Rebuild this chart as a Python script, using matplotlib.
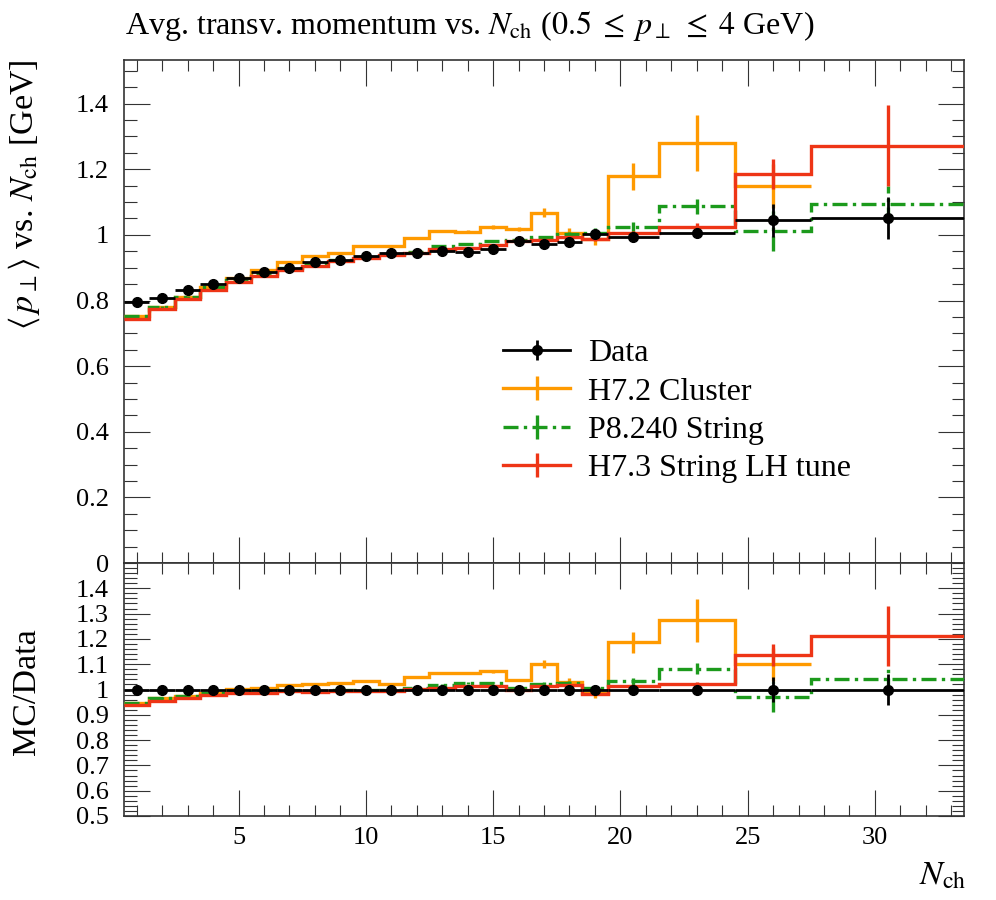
import numpy as np
import matplotlib
matplotlib.use("Agg")
import matplotlib.pyplot as plt
from matplotlib.lines import Line2D
from matplotlib.ticker import MultipleLocator, FixedLocator, FuncFormatter

# ---------------- data ----------------
edges = [0.5, 1.5, 2.5, 3.5, 4.5, 5.5, 6.5, 7.5, 8.5, 9.5, 10.5, 11.5, 12.5,
         13.5, 14.5, 15.5, 16.5, 17.5, 18.5, 19.5, 21.5, 24.5, 27.5, 33.5]

data_vals = [0.795, 0.809, 0.832, 0.851, 0.868, 0.886, 0.900, 0.916, 0.924, 0.936,
             0.944, 0.944, 0.951, 0.949, 0.956, 0.981, 0.971, 0.977, 1.003, 0.993,
             1.005, 1.044, 1.051]
data_err = [0.003, 0.003, 0.003, 0.003, 0.003, 0.003, 0.003, 0.003, 0.003, 0.003,
            0.004, 0.004, 0.004, 0.004, 0.005, 0.005, 0.005, 0.006, 0.006, 0.008,
            0.010, 0.050, 0.065]

h72_vals = [0.753, 0.781, 0.812, 0.840, 0.870, 0.893, 0.917, 0.936, 0.946, 0.966,
            0.966, 0.990, 1.012, 1.010, 1.025, 1.018, 1.068, 1.007, 0.988, 1.178,
            1.280, 1.149]
h72_err = [0.003, 0.003, 0.003, 0.003, 0.003, 0.003, 0.003, 0.003, 0.003, 0.003,
           0.003, 0.003, 0.004, 0.004, 0.006, 0.005, 0.015, 0.015, 0.020, 0.040,
           0.086, 0.068]

p8_vals = [0.753, 0.781, 0.812, 0.840, 0.863, 0.880, 0.898, 0.912, 0.924, 0.934,
           0.941, 0.949, 0.967, 0.973, 0.982, 0.985, 0.993, 1.003, 1.007, 1.025,
           1.088, 1.013, 1.093]
p8_err = [0.003, 0.003, 0.003, 0.003, 0.003, 0.003, 0.003, 0.003, 0.003, 0.003,
          0.003, 0.003, 0.003, 0.003, 0.003, 0.003, 0.005, 0.007, 0.013, 0.015,
          0.023, 0.061, 0.055]

h73_vals = [0.745, 0.773, 0.804, 0.832, 0.855, 0.875, 0.893, 0.906, 0.919, 0.931,
            0.939, 0.946, 0.956, 0.961, 0.970, 0.981, 0.985, 0.995, 0.987, 1.005,
            1.025, 1.185, 1.272]
h73_err = [0.003, 0.003, 0.003, 0.003, 0.003, 0.003, 0.003, 0.003, 0.003, 0.003,
           0.003, 0.003, 0.003, 0.003, 0.003, 0.003, 0.003, 0.003, 0.005, 0.006,
           0.010, 0.045, 0.124]

labels = ["Data", "H7.2 Cluster", "P8.240 String", "H7.3 String LH tune"]
title = r"Avg. transv. momentum vs. $N_{\mathrm{ch}}$ ($0.5\;\leq\;p_\perp\;\leq\;4$ GeV)"
ylabel_main = r"$\langle\, p_\perp \rangle$ vs. $N_{\mathrm{ch}}$ [GeV]"
ylabel_ratio = "MC/Data"
xlabel = r"$N_{\mathrm{ch}}$"

# ---------------- style ----------------
plt.rcParams['font.family'] = ['Liberation Serif', 'DejaVu Serif']
plt.rcParams['mathtext.fontset'] = 'stix'
FS_TICK = 19
FS_TEXT = 23
FS_LAB = 24.5

C_ORANGE = "#ff9a00"
C_GREEN = "#1c9a1c"
C_RED = "#ee3516"
LW = 2.4
GREEN_LS = (0, (4.5, 1.6, 1.0, 1.6))

edges_a = np.array(edges)
centers = 0.5 * (edges_a[:-1] + edges_a[1:])
halfw = 0.5 * (edges_a[1:] - edges_a[:-1])
d = np.array(data_vals)
de = np.array(data_err)

fig = plt.figure(figsize=(9.96, 9.0), dpi=100)
L, R = 124 / 996, 964 / 996
ax = fig.add_axes([L, 1 - 563 / 900, R - L, (563 - 60) / 900])
axr = fig.add_axes([L, 1 - 816 / 900, R - L, (816 - 563) / 900], sharex=ax)

series = [
    (h72_vals, h72_err, C_ORANGE, '-'),
    (p8_vals, p8_err, C_GREEN, GREEN_LS),
    (h73_vals, h73_err, C_RED, '-'),
]

for a, ratio in ((ax, False), (axr, True)):
    for vals, errs, col, ls in series:
        v = np.array(vals)
        e = np.array(errs)
        n = len(v)
        if ratio:
            v = v / d[:n]
            e = e / d[:n]
        a.stairs(v, edges_a[:n + 1], baseline=None, color=col, lw=LW,
                 linestyle=ls, zorder=3)
        eb = a.errorbar(centers[:n], v, yerr=e, fmt='none', ecolor=col,
                        elinewidth=LW, capsize=0, zorder=3)
        if ls != '-':
            for lc in eb.lines[2]:
                lc.set_linestyle(ls)
    if ratio:
        dv = np.ones_like(d)
        dee = de / d
    else:
        dv = d
        dee = de
    a.errorbar(centers, dv, xerr=halfw, yerr=dee, fmt='o', color='black',
               ms=7, elinewidth=2.0, capsize=0, zorder=5)

# ---------------- axes ----------------
for a in (ax, axr):
    a.set_xlim(0.5, 33.5)
    a.xaxis.set_major_locator(MultipleLocator(5))
    a.xaxis.set_minor_locator(MultipleLocator(1))
    a.tick_params(which='both', direction='in', top=True, right=True,
                  width=0.8, color='#333333', labelsize=FS_TICK)
    a.tick_params(which='major', length=19)
    a.tick_params(axis='x', which='minor', length=8)
    a.tick_params(axis='y', which='minor', length=9)
    a.tick_params(axis='y', pad=11)
    a.tick_params(axis='x', pad=8)
    for s in a.spines.values():
        s.set_linewidth(1.2)
        s.set_color('#333333')

fmt = FuncFormatter(lambda v, p: ("%.2f" % v).rstrip('0').rstrip('.'))
ax.set_ylim(0, 1.533)
ax.yaxis.set_major_locator(MultipleLocator(0.2))
ax.yaxis.set_minor_locator(MultipleLocator(0.05))
ax.yaxis.set_major_formatter(fmt)
ax.tick_params(labelbottom=False)

axr.set_ylim(0.5, 1.5)
axr.yaxis.set_major_locator(FixedLocator(np.round(np.arange(0.5, 1.45, 0.1), 2)))
axr.yaxis.set_minor_locator(MultipleLocator(0.02))
axr.yaxis.set_major_formatter(fmt)
axr.xaxis.set_major_formatter(FuncFormatter(lambda v, p: "%d" % v))

# ---------------- texts ----------------
fig.text(125 / 996, 1 - 26 / 900, title, fontsize=FS_TEXT, ha='left', va='center')
fig.text(24 / 996, 1 - 60 / 900, ylabel_main, fontsize=FS_LAB, rotation=90,
         ha='center', va='top')
fig.text(27 / 996, 1 - 692 / 900, ylabel_ratio, fontsize=FS_LAB, rotation=90,
         ha='center', va='center')
fig.text(966 / 996, 1 - 876 / 900, xlabel, fontsize=FS_LAB, ha='right', va='center')

# ---------------- legend ----------------
def bar(col):
    return Line2D([], [], color=col, marker='|', ms=17, mew=LW, ls='none')

handles = [
    (Line2D([], [], color='black', lw=2.0), Line2D([], [], color='black', marker='o', ms=7, ls='none'),
     Line2D([], [], color='black', marker='|', ms=15, mew=2.0, ls='none')),
    (Line2D([], [], color=C_ORANGE, lw=LW), bar(C_ORANGE)),
    (Line2D([], [], color=C_GREEN, lw=LW, ls=GREEN_LS), bar(C_GREEN)),
    (Line2D([], [], color=C_RED, lw=LW), bar(C_RED)),
]
ax.legend(handles, labels, loc='upper left',
          bbox_to_anchor=((503 - 124) / 840, (563 - 339) / 503),
          frameon=False, fontsize=FS_TEXT, borderpad=0, borderaxespad=0,
          handlelength=2.1, handletextpad=0.56, labelspacing=0.28)

fig.savefig("out.png", dpi=100)
